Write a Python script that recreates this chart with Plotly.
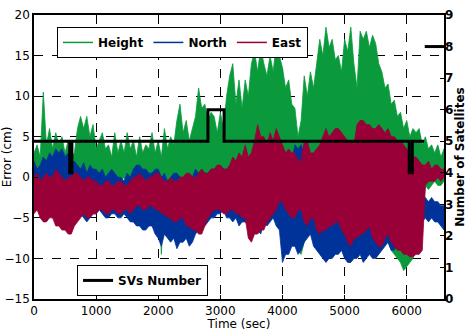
import plotly.graph_objects as go

# Envelope readings every 50 s: upper and lower extent of each error trace (cm)
time_s = list(range(0, 6601, 50))

height_hi = [3, 4, 2.5, 10.5, 4, 6, 3.5, 5.5, 4, 5, 3, 4.5, 2.5, 3,
             6, 7.5, 6, 7.5, 5, 6.5, 3.5, 4.5, 5.5, 3.5, 4, 2.5, 5.5, 3, 4.5, 3, 5.5, 3.5, 4.5, 2.5,
             5, 3, 4, 3.5, 5.5, 3, 4.5, 2.5, 6, 3.5, 5, 4, 7, 9, 5.5, 7, 4.5, 6, 7.5, 11,
             8.5, 9, 7, 8, 7.5, 5.5, 8, 6, 10, 12.5, 14, 9, 12, 8.5, 12, 10, 14, 15.5, 13, 16,
             14, 12.5, 15, 13, 16.5, 15, 13.5, 11, 12, 9, 8.5, 5, 7, 12.5, 10, 13, 11, 14, 17, 15,
             18.5, 16, 17, 14.5, 15, 13, 17, 15.5, 18.5, 14, 11, 18, 17, 18, 16, 17.5, 16.5, 14, 13, 11,
             11.5, 9, 9.5, 7.5, 8, 6, 7, 5, 6, 5.5, 6, 4, 5, 3.5, 4, 3, 4, 2.5, 3.5]
height_lo = [-0.5, 0, -1, -0.5, 0, -1, -0.5, -1, 0, -0.5, -1, -0.5, 0, -1,
             -0.5, 0, -1, -0.5, -1, 0, -0.5, -1, 0, -0.5, -1, -0.5, 0, -1, -0.5, 0, -1, -0.5, 0, -1,
             -0.5, -1, 0, -0.5, -1, -0.5, -1, -9.5, -1, -0.5, -1, 0, -1, -0.5, -1, -1.5, -0.5, -1, -1.5, -1,
             -1.5, -2, -1.5, -1, -1.5, -2, -2, -3, -4, -3.5, -4, -3, -4, -4.5, -3.5, -4, -4, -3, -4, -4.5,
             -3.5, -4, -4, -3.5, -4, -4.5, -4, -5, -6, -7, -8, -9, -9.5, -8, -6, -5, -4.5, -5, -5.5, -5,
             -4.5, -5, -5, -4.5, -5, -5.5, -5, -4.5, -5, -5, -4.5, -5, -5.5, -5, -5, -4.5, -5, -6, -7, -7,
             -8, -9, -9.5, -10, -10.5, -11.5, -11, -10.5, -10, -9, -8, -6, -1, -1.5, -1, -0.5, -1, -1, -0.5]

north_hi = [2, 1, 1.5, 2.5, 2, 3, 2.5, 3.5, 3, 3.5, 2.5, 3, 1.5, 2,
            1.5, 1, 1.8, 0.5, 1.5, 1, 1, 0.5, 1, 0, 0.5, 1, 0.5, 0, 0, -0.5, 0.5, 0, 1, 1.5,
            1.5, 1, 1, 0.5, 0.5, 1, 1, 0, 0.5, -0.5, 0, 0.5, 0.5, 0, 0, -0.5, 0.5, 0, 1, 0.5,
            1, 0.5, 0.5, 1, 1, 0.5, 1.5, 1, 1, 0.5, 1, 0.5, 0.5, 0, 1, 0.5, 1, 0, 0.5, 1,
            0.5, 0, 1, 0.5, 0, -0.5, 0, 0.5, 1, 2, 4, 3.5, 4, 3, 2, 1, 1, 0, 0, -0.5,
            0, -1, -1, -0.5, 0, -1, -1, 0, 0, 1, 1, 0, 0, -1, -1, 0, 0, -0.5, 0, 0.5,
            1, 0.5, 1, 1.5, 2, 2.5, 3, 2.5, 2, 1, 0, -2, -2.5, -3, -2.5, -3, -3, -3.5, -3.5]
north_lo = [-4, -3.5, -4.5, -5, -5, -4.5, -4.5, -4, -4, -5, -5, -4.5, -5.5, -5,
            -5, -4.5, -5, -5.5, -5, -4.5, -4.5, -4, -4.5, -5, -5, -4.5, -4.5, -5, -5, -4.5, -5, -5.5, -5.5, -6,
            -6, -6.5, -6.5, -6, -6, -7, -7.5, -8.5, -7, -7.5, -8, -7.5, -8.8, -8, -8, -7.5, -8.5, -8, -7, -6.5,
            -6, -6, -5.5, -5, -5, -4.5, -4.5, -4, -5, -5, -5.5, -5, -6, -5.5, -5.5, -6, -7, -6.5, -6.5, -7,
            -5.5, -6, -5.5, -5, -6, -6.5, -10.5, -9.5, -9.5, -8.5, -8.5, -9.5, -9, -8, -7.5, -7, -8.5, -9, -9.5, -10,
            -10.5, -10, -10, -9.5, -9.5, -9, -10, -10.5, -10.5, -10, -10, -9.5, -10.5, -10, -9.5, -10, -10, -9.5, -9, -8.5,
            -8, -9, -9, -8, -7, -8, -9, -9.5, -8, -7, -6, -5.5, -5, -5.5, -5, -5.5, -5.5, -6, -6.5]

east_hi = [0, 0.5, -0.5, 0, 0.5, 0, 0, 1, 0.5, 0, -0.5, 0, 0, 0.5,
           0.5, 0, -0.5, 0, 0, -0.5, -0.5, -1, -1, -0.5, -0.5, -1, -1, -0.5, -0.5, -1, -1, -0.5, 0, 0,
           0.5, 0, -0.5, 0, 0, 0.5, 0.5, 0, -0.5, -0.5, 0, -0.5, -0.5, 0, 0, 0.5, 0.5, 0, 0, 0.5,
           1, 0.5, 0.5, 1, 1, 1.5, 1.5, 1, 1, 1.5, 2.5, 2, 3, 2.5, 4, 2.5, 3, 4.5, 6.5, 5,
           5, 4, 5.5, 4.5, 6, 5, 4, 3, 3.5, 3, 3, 2, 2, 4.5, 4.5, 3, 3, 3.5, 4, 5,
           6, 5, 5.5, 6, 6, 5.5, 5, 4.5, 4.5, 4, 6.5, 7, 7, 6.5, 6.5, 6, 6, 6.5, 6, 5.5,
           6, 5, 5, 4.5, 4.5, 4, 3.5, 3, 2.5, 2.5, 2, 1.5, 1.5, 2, 1, 1.5, 1.5, 1, 1]
east_lo = [-4.5, -4, -5, -5.5, -5.5, -5, -5, -6, -6, -6.5, -6.5, -7, -7, -6,
           -5.5, -5, -4.5, -5, -5, -4.5, -4.5, -4, -4, -4.5, -4.5, -4, -4, -4.5, -4.5, -4, -4, -4.5, -4, -3.5,
           -3.5, -4, -4, -3.5, -3.5, -4, -4, -4.5, -4.5, -5, -5, -5.5, -5.5, -5, -5, -6, -6, -6.5, -6.5, -7,
           -7, -6, -5, -4.5, -4, -4, -4, -4.5, -4.5, -4, -4, -4.5, -4.5, -5, -5, -7.5, -8, -7, -7, -6.5,
           -6.5, -5.5, -5, -4.5, -4, -3, -3, -4, -4.5, -5, -5, -4, -4, -5.5, -6, -5, -5, -6.5, -7, -6.5,
           -6.5, -6, -6, -5.5, -5.5, -6.5, -7, -8, -8.5, -7.5, -7.5, -7, -7, -6.5, -6, -7.5, -8, -8.5, -8.5, -7.5,
           -7, -8, -8.5, -9, -9, -9.5, -9.5, -9.8, -9.8, -9.5, -9.5, -9, -1, -0.5, -0.5, -0.5, 0, -0.5, 0]

# Number of satellites in view: change times (s) and counts (None breaks the line)
sv_time = [0, 575, 610, 2800, 3060, 6040, 6090, 6280, None, 6290, 6600]
sv_count = [5, 4, 5, 6, 5, 4, 5, 5, None, 8, 8]

series = [
    ("Height", height_hi, height_lo, "#0a9a3c"),
    ("North", north_hi, north_lo, "#00339a"),
    ("East", east_hi, east_lo, "#9a0038"),
]

fig = go.Figure()
for name, hi, lo, color in series:
    assert len(hi) == len(lo) == len(time_s)
    # closed band: upper envelope left to right, lower envelope back
    band_x = time_s + time_s[::-1]
    band_y = hi + lo[::-1]
    fig.add_trace(go.Scatter(x=band_x, y=band_y, mode="lines", fill="toself",
                             fillcolor=color, line=dict(color=color, width=0.8),
                             name=name, showlegend=False, hoverinfo="skip"))
    # line-style legend entry for the band
    fig.add_trace(go.Scatter(x=[None], y=[None], mode="lines", name=name,
                             line=dict(color=color, width=1.5), legend="legend"))

fig.add_trace(go.Scatter(x=sv_time, y=sv_count, mode="lines", name="SVs Number",
                         line=dict(color="black", width=3, shape="hv"),
                         connectgaps=False, yaxis="y2", legend="legend2"))

font = "DejaVu Sans, Arial, sans-serif"
fs = 12
grid = dict(showgrid=True, gridcolor="black", griddash="dash", gridwidth=1)

fig.update_layout(
    width=467, height=331,
    margin=dict(l=34, r=23, t=15, b=32),
    paper_bgcolor="white", plot_bgcolor="white",
    font=dict(family=font, size=fs, color="black"),
    xaxis=dict(range=[0, 6600], tickvals=[0, 1000, 2000, 3000, 4000, 5000, 6000],
               ticks="inside", ticklen=4, tickcolor="black", automargin=False,
               showline=True, linecolor="black", linewidth=1.5, mirror=True,
               title=dict(text="Time (sec)", standoff=0, font=dict(size=fs)),
               zeroline=False, **grid),
    yaxis=dict(range=[-15, 20], tickvals=[-15, -10, -5, 0, 5, 10, 15, 20],
               ticks="inside", ticklen=4, tickcolor="black", automargin=False,
               showline=True, linecolor="black", linewidth=1.5, mirror=True,
               title=dict(text="Error (cm)", standoff=0, font=dict(size=fs)),
               zeroline=False, **grid),
    yaxis2=dict(range=[0, 9], tickvals=list(range(10)), overlaying="y", side="right",
                ticks="inside", ticklen=4, tickcolor="black", showgrid=False, zeroline=False,
                automargin=False,
                tickfont=dict(size=fs, family=font, weight="bold"),
                title=dict(text="<b>Number of Satellites</b>", standoff=2, font=dict(size=fs))),
    legend=dict(orientation="h", x=0.056, y=0.958, xanchor="left", yanchor="top",
                bgcolor="white", bordercolor="black", borderwidth=1, traceorder="normal",
                font=dict(size=fs, family=font, weight="bold"),
                itemwidth=30, tracegroupgap=0),
    legend2=dict(orientation="h", x=0.105, y=0.12, xanchor="left", yanchor="top",
                 bgcolor="white", bordercolor="black", borderwidth=1,
                 font=dict(size=fs, family=font, weight="bold"), itemwidth=30),
    showlegend=True,
)

fig.write_html("out.html")
